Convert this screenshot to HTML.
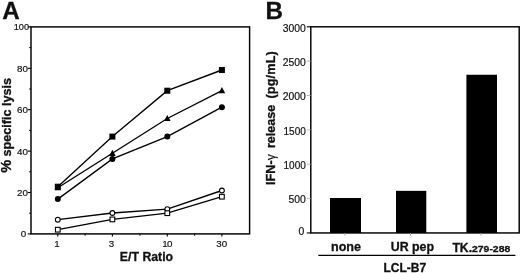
<!DOCTYPE html><html><head><meta charset="utf-8"><title>Figure</title><style>html,body{margin:0;padding:0;background:#fff}svg{display:block;filter:blur(0.35px)}text{font-family:"Liberation Sans",sans-serif;fill:#111;stroke:#111;stroke-width:0.18px}.b{font-weight:bold;stroke:#111;stroke-width:0.3px}</style></head><body>
<svg width="520" height="273" viewBox="0 0 520 273">
<rect width="520" height="273" fill="#fff"/>
<text class="b" x="2.2" y="18.9" font-size="24.2">A</text>
<text class="b" x="265.6" y="18.7" font-size="24.2">B</text>
<rect x="31.0" y="26.9" width="218.60" height="207.00" fill="none" stroke="#000" stroke-width="1.45"/>
<line x1="27.8" y1="233.90" x2="31.0" y2="233.90" stroke="#000" stroke-width="1.1"/>
<text x="26.3" y="237.10" font-size="9.8" text-anchor="end">0</text>
<line x1="29.2" y1="213.20" x2="31.0" y2="213.20" stroke="#000" stroke-width="1"/>
<line x1="27.8" y1="192.50" x2="31.0" y2="192.50" stroke="#000" stroke-width="1.1"/>
<text x="28.0" y="196.25" font-size="9.8" text-anchor="end">20</text>
<line x1="29.2" y1="171.80" x2="31.0" y2="171.80" stroke="#000" stroke-width="1"/>
<line x1="27.8" y1="151.10" x2="31.0" y2="151.10" stroke="#000" stroke-width="1.1"/>
<text x="28.0" y="154.85" font-size="9.8" text-anchor="end">40</text>
<line x1="29.2" y1="130.40" x2="31.0" y2="130.40" stroke="#000" stroke-width="1"/>
<line x1="27.8" y1="109.70" x2="31.0" y2="109.70" stroke="#000" stroke-width="1.1"/>
<text x="28.0" y="113.45" font-size="9.8" text-anchor="end">60</text>
<line x1="29.2" y1="89.00" x2="31.0" y2="89.00" stroke="#000" stroke-width="1"/>
<line x1="27.8" y1="68.30" x2="31.0" y2="68.30" stroke="#000" stroke-width="1.1"/>
<text x="28.0" y="72.05" font-size="9.8" text-anchor="end">80</text>
<line x1="29.2" y1="47.60" x2="31.0" y2="47.60" stroke="#000" stroke-width="1"/>
<line x1="27.8" y1="26.90" x2="31.0" y2="26.90" stroke="#000" stroke-width="1.1"/>
<text x="29.0" y="30.00" font-size="9.2" text-anchor="end">100</text>
<line x1="57.8" y1="233.9" x2="57.8" y2="236.6" stroke="#000" stroke-width="1.1"/>
<text x="56.9" y="247.2" font-size="9.8" text-anchor="middle">1</text>
<line x1="112.4" y1="233.9" x2="112.4" y2="236.6" stroke="#000" stroke-width="1.1"/>
<text x="111.6" y="247.2" font-size="9.8" text-anchor="middle">3</text>
<line x1="167.3" y1="233.9" x2="167.3" y2="236.6" stroke="#000" stroke-width="1.1"/>
<text x="167.3" y="247.2" font-size="9.8" text-anchor="middle">1<tspan dx="-0.7">0</tspan></text>
<line x1="221.9" y1="233.9" x2="221.9" y2="236.6" stroke="#000" stroke-width="1.1"/>
<text x="221.8" y="247.2" font-size="9.8" text-anchor="middle">30</text>
<line x1="85.1" y1="233.9" x2="85.1" y2="235.70000000000002" stroke="#000" stroke-width="1"/>
<line x1="139.9" y1="233.9" x2="139.9" y2="235.70000000000002" stroke="#000" stroke-width="1"/>
<line x1="194.6" y1="233.9" x2="194.6" y2="235.70000000000002" stroke="#000" stroke-width="1"/>
<text class="b" x="146.5" y="260.6" font-size="12.3" text-anchor="middle">E/T Ratio</text>
<text class="b" transform="translate(11.0,77.9) rotate(-90)" font-size="12.62" text-anchor="end"><tspan font-size="14.5">%</tspan> specific lysis</text>
<polyline points="57.8,186.7 112.4,136.6 167.3,90.7 221.9,70.0" fill="none" stroke="#000" stroke-width="1.35"/>
<polyline points="57.8,187.7 112.4,153.3 167.3,118.5 221.9,90.7" fill="none" stroke="#000" stroke-width="1.35"/>
<polyline points="57.8,199.1 112.4,158.9 167.3,136.6 221.9,107.2" fill="none" stroke="#000" stroke-width="1.35"/>
<polyline points="57.8,219.7 112.4,213.0 167.3,209.1 221.9,190.5" fill="none" stroke="#000" stroke-width="1.35"/>
<polyline points="57.8,229.7 112.4,219.4 167.3,213.2 221.9,196.7" fill="none" stroke="#000" stroke-width="1.35"/>
<rect x="54.8" y="183.7" width="6" height="6" fill="#000"/>
<rect x="109.4" y="133.6" width="6" height="6" fill="#000"/>
<rect x="164.3" y="87.7" width="6" height="6" fill="#000"/>
<rect x="218.9" y="67.0" width="6" height="6" fill="#000"/>
<polygon points="57.8,184.1 54.5,190.3 61.1,190.3" fill="#000"/>
<polygon points="112.4,149.7 109.1,155.9 115.7,155.9" fill="#000"/>
<polygon points="167.3,114.9 164.0,121.1 170.6,121.1" fill="#000"/>
<polygon points="221.9,87.1 218.6,93.3 225.2,93.3" fill="#000"/>
<circle cx="57.8" cy="199.1" r="3" fill="#000"/>
<circle cx="112.4" cy="158.9" r="3" fill="#000"/>
<circle cx="167.3" cy="136.6" r="3" fill="#000"/>
<circle cx="221.9" cy="107.2" r="3" fill="#000"/>
<circle cx="57.8" cy="219.7" r="2.4" fill="#fff" stroke="#000" stroke-width="1.1"/>
<circle cx="112.4" cy="213.0" r="2.4" fill="#fff" stroke="#000" stroke-width="1.1"/>
<circle cx="167.3" cy="209.1" r="2.4" fill="#fff" stroke="#000" stroke-width="1.1"/>
<circle cx="221.9" cy="190.5" r="2.4" fill="#fff" stroke="#000" stroke-width="1.1"/>
<rect x="55.45" y="227.35" width="4.7" height="4.7" fill="#fff" stroke="#000" stroke-width="1.1"/>
<rect x="110.05" y="217.05" width="4.7" height="4.7" fill="#fff" stroke="#000" stroke-width="1.1"/>
<rect x="164.95" y="210.85" width="4.7" height="4.7" fill="#fff" stroke="#000" stroke-width="1.1"/>
<rect x="219.55" y="194.35" width="4.7" height="4.7" fill="#fff" stroke="#000" stroke-width="1.1"/>
<rect x="310.8" y="26.8" width="208.40" height="206.15" fill="none" stroke="#000" stroke-width="1.45"/>
<line x1="306.8" y1="232.95" x2="310.8" y2="232.95" stroke="#000" stroke-width="1.1"/>
<text x="304.3" y="234.55" font-size="10.4" text-anchor="end">0</text>
<line x1="306.8" y1="198.59" x2="310.8" y2="198.59" stroke="#aaa" stroke-width="0.8"/>
<text x="305.8" y="203.49" font-size="10.4" text-anchor="end">500</text>
<line x1="306.8" y1="164.23" x2="310.8" y2="164.23" stroke="#aaa" stroke-width="0.8"/>
<text x="305.8" y="169.13" font-size="10.0" text-anchor="end">1000</text>
<line x1="306.8" y1="129.88" x2="310.8" y2="129.88" stroke="#aaa" stroke-width="0.8"/>
<text x="305.8" y="134.78" font-size="10.0" text-anchor="end">1500</text>
<line x1="306.8" y1="95.52" x2="310.8" y2="95.52" stroke="#aaa" stroke-width="0.8"/>
<text x="305.8" y="100.42" font-size="10.4" text-anchor="end">2000</text>
<line x1="306.8" y1="61.16" x2="310.8" y2="61.16" stroke="#aaa" stroke-width="0.8"/>
<text x="305.8" y="66.06" font-size="10.4" text-anchor="end">2500</text>
<line x1="306.8" y1="26.80" x2="310.8" y2="26.80" stroke="#000" stroke-width="1.1"/>
<text x="305.8" y="31.70" font-size="10.4" text-anchor="end">3000</text>
<rect x="330.0" y="198.0" width="31.0" height="34.95" fill="#000"/>
<line x1="344.9" y1="232.95" x2="344.9" y2="235.45" stroke="#999" stroke-width="0.9"/>
<rect x="396.0" y="190.85" width="30.3" height="42.10" fill="#000"/>
<line x1="410.5" y1="232.95" x2="410.5" y2="235.45" stroke="#999" stroke-width="0.9"/>
<rect x="466.4" y="74.75" width="30.6" height="158.20" fill="#000"/>
<line x1="481.1" y1="232.95" x2="481.1" y2="235.45" stroke="#999" stroke-width="0.9"/>
<text class="b" x="346.0" y="251.2" font-size="12.6" text-anchor="middle">none</text>
<text class="b" x="412.4" y="251.3" font-size="12.4" text-anchor="middle">UR pep</text>
<text class="b" x="452.4" y="252.0" font-size="12.2">TK.</text><text class="b" transform="translate(472.0,251.55) scale(1.06,1)" font-size="9.85">279-288</text>
<line x1="318.3" y1="255.4" x2="515.4" y2="255.4" stroke="#000" stroke-width="1.1"/>
<text class="b" x="404.8" y="271.6" font-size="12" text-anchor="middle">LCL-B7</text>
<text class="b" transform="translate(275.3,185.0) rotate(-90)" font-size="12.7">IFN-<tspan style="font-weight:normal;stroke-width:0.15px" font-size="12.2">γ</tspan></text><text class="b" transform="translate(275.3,148.1) rotate(-90)" font-size="12.55">release</text><text class="b" transform="translate(275.3,98.5) rotate(-90)" font-size="12.7" letter-spacing="0.12">(pg/mL)</text>
</svg></body></html>
